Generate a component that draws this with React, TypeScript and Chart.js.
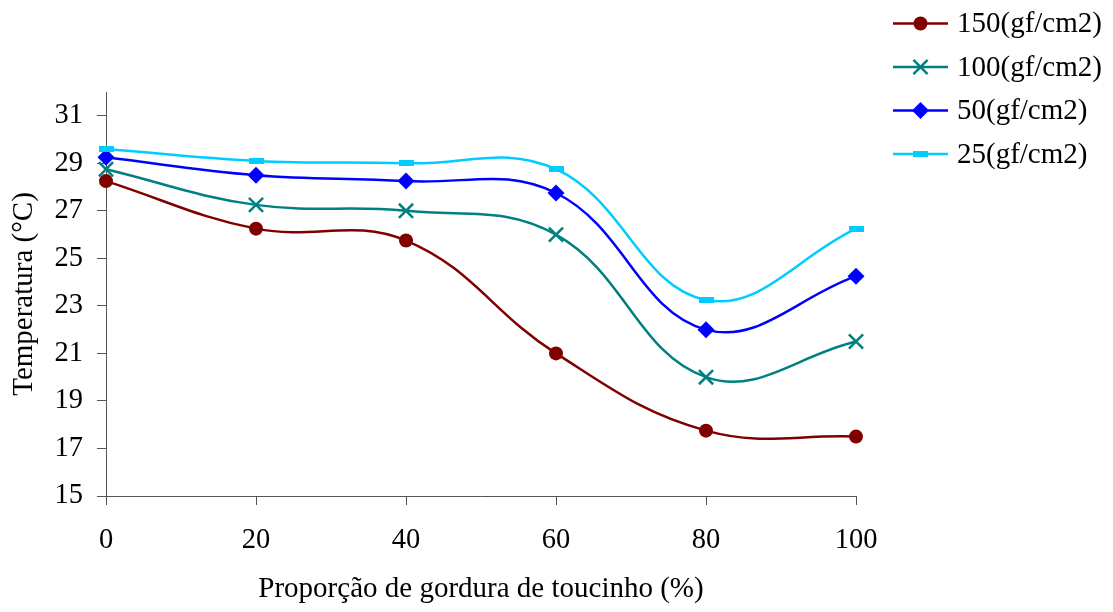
import React, { useEffect, useRef } from 'react';
import { Chart, registerables } from 'chart.js';

Chart.register(...registerables);

// Fat proportion (%) on the x axis
const proportions = [0, 20, 40, 60, 80, 100];

// Temperature (°C) for each applied pressure
const temp150 = [28.25, 26.25, 25.75, 21.0, 17.75, 17.5];
const temp100 = [28.75, 27.25, 27.0, 26.0, 20.0, 21.5];
const temp50 = [29.25, 28.5, 28.25, 27.75, 22.0, 24.25];
const temp25 = [29.6, 29.1, 29.0, 28.75, 23.25, 26.25];

const seriesLabels = ['150(gf/cm2)', '100(gf/cm2)', '50(gf/cm2)', '25(gf/cm2)'];
const seriesColors = ['#800000', '#008080', '#0000FF', '#00CCFF'];

const yTickValues = [15, 17, 19, 21, 23, 25, 27, 29, 31];
const xTickValues = [0, 20, 40, 60, 80, 100];

const FONT = "'Liberation Serif', 'Times New Roman', serif";
const AXIS_COLOR = '#555555';

type MarkerKind = 'circle' | 'crossRot' | 'rectRot' | 'bar';
const seriesMarkers: MarkerKind[] = ['circle', 'crossRot', 'rectRot', 'bar'];
const markerRadius = [7, 10, 8.5, 0];

function barMarker(color: string): HTMLCanvasElement {
  const c = document.createElement('canvas');
  c.width = 15;
  c.height = 6;
  const g = c.getContext('2d')!;
  g.fillStyle = color;
  g.fillRect(0, 0, 15, 6);
  return c;
}

function drawMarker(ctx: CanvasRenderingContext2D, kind: MarkerKind, x: number, y: number, r: number, color: string) {
  ctx.save();
  ctx.fillStyle = color;
  ctx.strokeStyle = color;
  if (kind === 'circle') {
    ctx.beginPath();
    ctx.arc(x, y, r, 0, Math.PI * 2);
    ctx.fill();
  } else if (kind === 'crossRot') {
    const d = r * Math.SQRT1_2;
    ctx.lineWidth = 2.5;
    ctx.beginPath();
    ctx.moveTo(x - d, y - d);
    ctx.lineTo(x + d, y + d);
    ctx.moveTo(x - d, y + d);
    ctx.lineTo(x + d, y - d);
    ctx.stroke();
  } else if (kind === 'rectRot') {
    ctx.beginPath();
    ctx.moveTo(x, y - r);
    ctx.lineTo(x + r, y);
    ctx.lineTo(x, y + r);
    ctx.lineTo(x - r, y);
    ctx.closePath();
    ctx.fill();
  } else {
    ctx.fillRect(x - 7.5, y - 3, 15, 6);
  }
  ctx.restore();
}

// Legend drawn at the upper right: line sample, marker and label
const sideLegend = {
  id: 'sideLegend',
  afterDraw(chart: Chart) {
    const ctx = chart.ctx;
    ctx.save();
    ctx.font = `29px ${FONT}`;
    ctx.textBaseline = 'middle';
    ctx.textAlign = 'left';
    seriesLabels.forEach((label, i) => {
      const y = 23.5 + i * 43.5;
      const color = seriesColors[i];
      ctx.strokeStyle = color;
      ctx.lineWidth = 2.5;
      ctx.beginPath();
      ctx.moveTo(893, y);
      ctx.lineTo(948, y);
      ctx.stroke();
      drawMarker(ctx, seriesMarkers[i], 920.5, y, markerRadius[i], color);
      ctx.fillStyle = '#000000';
      ctx.fillText(label, 957, y + 1);
    });
    ctx.restore();
  },
};

export default function App() {
  const canvasRef = useRef<HTMLCanvasElement | null>(null);

  useEffect(() => {
    const canvas = canvasRef.current;
    if (!canvas) return;

    const seriesValues = [temp150, temp100, temp50, temp25];
    const datasets = seriesValues.map((vals, i) => {
      const color = seriesColors[i];
      const kind = seriesMarkers[i];
      return {
        label: seriesLabels[i],
        data: proportions.map((x, j) => ({ x, y: vals[j] })),
        borderColor: color,
        backgroundColor: color,
        borderWidth: 2.5,
        tension: 0.4,
        pointStyle: kind === 'bar' ? barMarker(color) : kind,
        pointRadius: markerRadius[i] || 5,
        pointBorderWidth: kind === 'crossRot' ? 2.5 : 0,
        pointBackgroundColor: color,
        pointBorderColor: color,
        fill: false,
        clip: false,
        order: seriesValues.length - i,
      };
    });

    const chart = new Chart(canvas, {
      type: 'line',
      data: { datasets },
      options: {
        responsive: false,
        animation: false,
        layout: { padding: { left: 0, top: 92, right: 257, bottom: 0 } },
        plugins: {
          legend: { display: false },
          tooltip: { enabled: false },
        },
        scales: {
          x: {
            type: 'linear',
            min: 0,
            max: 100,
            afterBuildTicks: (axis: any) => {
              axis.ticks = xTickValues.map((v) => ({ value: v }));
            },
            afterFit: (scale: any) => {
              scale.height = 116;
            },
            ticks: {
              color: '#000000',
              font: { family: FONT, size: 28.5 },
              padding: 18,
              maxRotation: 0,
            },
            grid: {
              display: true,
              drawOnChartArea: false,
              drawTicks: true,
              tickLength: 9,
              color: AXIS_COLOR,
            },
            border: { display: true, color: AXIS_COLOR, width: 1 },
            title: {
              display: true,
              text: 'Proporção de gordura de toucinho (%)',
              color: '#000000',
              font: { family: FONT, size: 29 },
              padding: { top: 0, bottom: 5 },
            },
          },
          y: {
            type: 'linear',
            min: 15,
            max: 32,
            afterBuildTicks: (axis: any) => {
              axis.ticks = yTickValues.map((v) => ({ value: v }));
            },
            afterFit: (scale: any) => {
              scale.width = 106;
            },
            ticks: {
              color: '#000000',
              font: { family: FONT, size: 28.5 },
              padding: 14,
            },
            grid: {
              display: true,
              drawOnChartArea: false,
              drawTicks: true,
              tickLength: 9,
              color: AXIS_COLOR,
            },
            border: { display: true, color: AXIS_COLOR, width: 1 },
            title: {
              display: true,
              text: 'Temperatura (°C)',
              color: '#000000',
              font: { family: FONT, size: 29 },
              padding: { top: 7, bottom: 0 },
            },
          },
        },
      },
      plugins: [sideLegend],
    });

    return () => {
      chart.destroy();
    };
  }, []);

  return (
    <div style={{ position: 'absolute', left: 0, top: 0, width: 1113, height: 612, background: '#ffffff' }}>
      <canvas ref={canvasRef} width={1113} height={612} style={{ display: 'block' }} />
    </div>
  );
}
